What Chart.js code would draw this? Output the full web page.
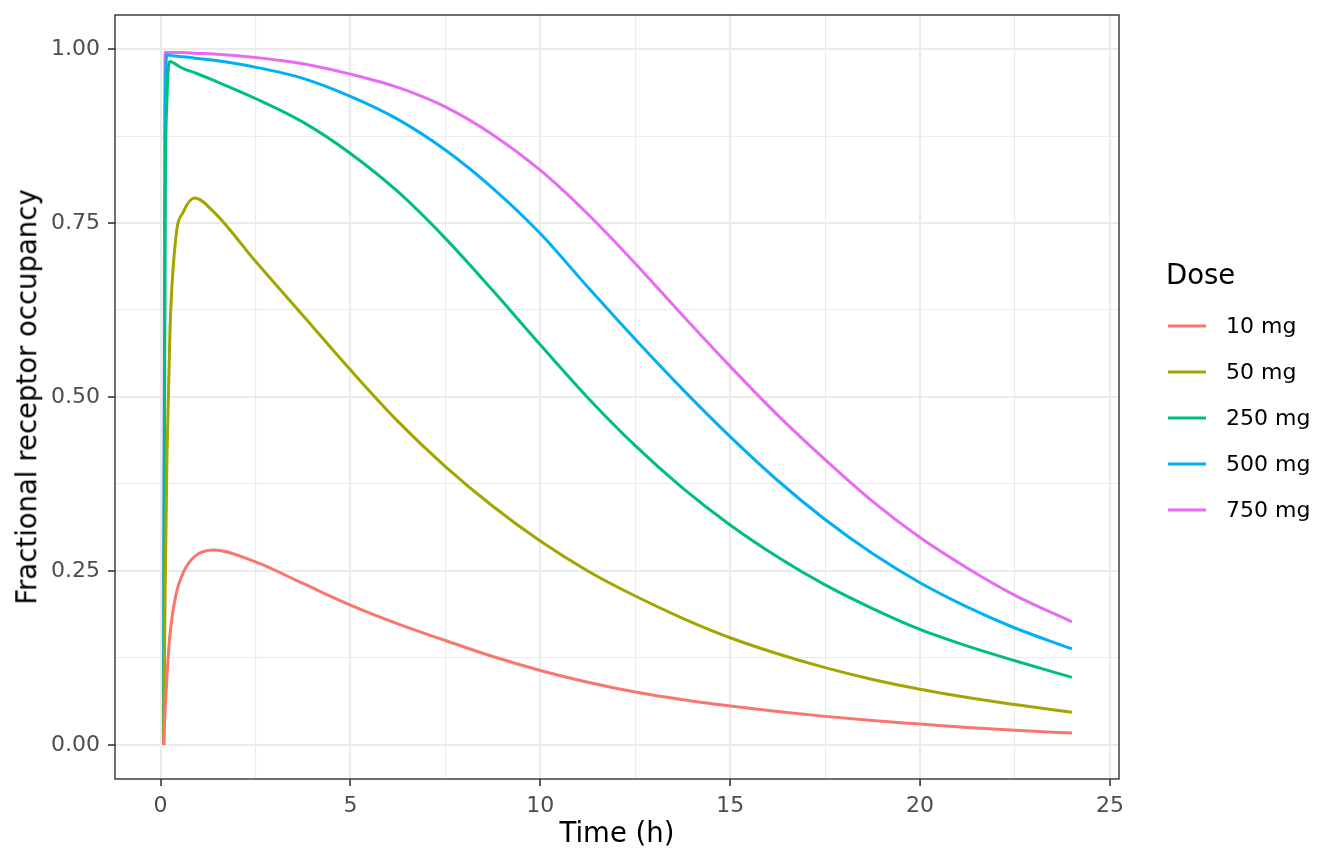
<!DOCTYPE html>
<html>
<head>
<meta charset="utf-8">
<script src="https://cdn.jsdelivr.net/npm/chart.js@4.4.1/dist/chart.umd.min.js"></script>
<style>
  html, body { margin: 0; padding: 0; background: #fff; }
  #wrap { position: relative; width: 1344px; height: 864px; font-family: 'DejaVu Sans', sans-serif; }
  #wrap canvas { position: absolute; left: 0; top: 0; }
  .title { position: absolute; color: #000; font-size: 27.5px; white-space: nowrap; line-height: 1; }
  .lab { position: absolute; color: #000; font-size: 22px; white-space: nowrap; line-height: 1; transform: translateY(-50%); }
  .key { position: absolute; height: 3px; width: 38px; transform: translateY(-50%); }
</style>
</head>
<body>
<div id="wrap">
  <canvas id="chartOccupancy" width="1344" height="864"></canvas>
  <div class="title" id="xTitle" style="left:617px; top:833px; transform:translate(-50%,-50%);">Time (h)</div>
  <div class="title" id="yTitle" style="left:27px; top:397px; transform:translate(-50%,-50%) rotate(-90deg);">Fractional receptor occupancy</div>
  <div class="title" style="left:1166px; top:275px; transform:translateY(-50%);">Dose</div>
  <div id="legend"></div>
</div>
<script>
// ============================================
// Receptor occupancy vs time, per dose
// ============================================

const doseLabels = ['10 mg', '50 mg', '250 mg', '500 mg', '750 mg'];
const doseColors = ['#F8766D', '#A3A500', '#00BF7D', '#00B0F6', '#E76BF3'];

// time (h)
const times = [0.08, 0.12, 0.17, 0.25, 0.4, 0.6, 0.9, 1.4, 2.5, 3.75, 5, 6.25, 7.5, 8.75, 10,
               11.25, 12.5, 13.75, 15, 16.25, 17.5, 18.75, 20, 21.25, 22.5, 24];

const occ10  = [0, 0.05, 0.10, 0.16, 0.215, 0.248, 0.271, 0.280, 0.263, 0.232, 0.201, 0.174, 0.150, 0.127, 0.107,
                0.090, 0.076, 0.065, 0.056, 0.048, 0.041, 0.035, 0.030, 0.025, 0.021, 0.017];
const occ50  = [0, 0.22, 0.42, 0.60, 0.728, 0.766, 0.786, 0.766, 0.695, 0.617, 0.539, 0.465, 0.400, 0.343, 0.293,
                0.250, 0.214, 0.182, 0.154, 0.131, 0.111, 0.094, 0.080, 0.068, 0.058, 0.047];
const occ250 = [0, 0.75, 0.93, 0.982, 0.978, 0.972, 0.966, 0.955, 0.929, 0.895, 0.850, 0.795, 0.728, 0.653, 0.575,
                0.499, 0.430, 0.369, 0.316, 0.270, 0.230, 0.196, 0.166, 0.142, 0.121, 0.097];
const occ500 = [0, 0.90, 0.992, 0.991, 0.990, 0.989, 0.987, 0.984, 0.974, 0.958, 0.932, 0.899, 0.855, 0.800, 0.735,
                0.658, 0.583, 0.511, 0.443, 0.380, 0.324, 0.275, 0.233, 0.198, 0.168, 0.138];
const occ750 = [0, 0.995, 0.995, 0.995, 0.995, 0.995, 0.994, 0.993, 0.988, 0.979, 0.964, 0.945, 0.917, 0.877, 0.826,
                0.763, 0.692, 0.617, 0.544, 0.474, 0.410, 0.350, 0.298, 0.254, 0.215, 0.177];

const xMajor = [0, 5, 10, 15, 20, 25];
const xMinor = [2.5, 7.5, 12.5, 17.5, 22.5];
const xTickLabels = ['0', '5', '10', '15', '20', '25'];
const yMajor = [0, 0.25, 0.5, 0.75, 1];
const yMinor = [0.125, 0.375, 0.625, 0.875];
const yTickLabels = ['0.00', '0.25', '0.50', '0.75', '1.00'];

const allSeries = [occ10, occ50, occ250, occ500, occ750];

function isMajor(list, v) {
  return list.some(m => Math.abs(m - v) < 1e-9);
}

// legend (html, ggplot style)
const legendEl = document.getElementById('legend');
doseLabels.forEach((lbl, i) => {
  const y = 325.7 + i * 46;
  legendEl.insertAdjacentHTML('beforeend',
    '<div class="key" style="left:1168px; top:' + y + 'px; background:' + doseColors[i] + ';"></div>' +
    '<div class="lab" style="left:1226px; top:' + y + 'px;">' + lbl + '</div>');
});

const panelBorder = {
  id: 'panelBorder',
  afterDatasetsDraw(chart) {
    const a = chart.chartArea;
    const ctx = chart.ctx;
    ctx.save();
    ctx.strokeStyle = '#333333';
    ctx.lineWidth = 1.4;
    ctx.strokeRect(a.left, a.top, a.right - a.left, a.bottom - a.top);
    ctx.restore();
  }
};

const gridOpts = (majors) => ({
  color: '#EBEBEB',
  lineWidth: c => (c.tick && isMajor(majors, c.tick.value)) ? 2.1 : 1.1,
  tickColor: c => (c.tick && isMajor(majors, c.tick.value)) ? '#333333' : 'rgba(0,0,0,0)',
  tickWidth: 1.6,
  tickLength: 7,
  drawTicks: true
});

function noPad(s) {
  s.paddingTop = 0; s.paddingBottom = 0; s.paddingLeft = 0; s.paddingRight = 0;
}

new Chart(document.getElementById('chartOccupancy'), {
  type: 'line',
  data: {
    datasets: allSeries.map((vals, i) => ({
      label: doseLabels[i],
      data: times.map((t, j) => ({ x: t, y: vals[j] })),
      borderColor: doseColors[i],
      borderWidth: 3,
      pointRadius: 0,
      fill: false,
      cubicInterpolationMode: 'monotone'
    }))
  },
  options: {
    responsive: false,
    animation: false,
    events: [],
    layout: { padding: { left: 0, top: 15, right: 225, bottom: 0 } },
    plugins: { legend: { display: false }, tooltip: { enabled: false } },
    scales: {
      x: {
        type: 'linear',
        min: -1.2,
        max: 25.24,
        afterFit: s => { s.height = 85; noPad(s); },
        afterBuildTicks: s => { s.ticks = xMajor.concat(xMinor).sort((a, b) => a - b).map(v => ({ value: v })); },
        ticks: {
          autoSkip: false,
          maxRotation: 0,
          padding: 7,
          color: '#4D4D4D',
          font: { family: "'DejaVu Sans', sans-serif", size: 22 },
          callback: v => {
            const k = xMajor.findIndex(m => Math.abs(m - v) < 1e-9);
            return k >= 0 ? xTickLabels[k] : '';
          }
        },
        grid: gridOpts(xMajor),
        border: { display: false }
      },
      y: {
        type: 'linear',
        min: -0.049,
        max: 1.049,
        afterFit: s => { s.width = 115; noPad(s); },
        afterBuildTicks: s => { s.ticks = yMajor.concat(yMinor).sort((a, b) => a - b).map(v => ({ value: v })); },
        ticks: {
          autoSkip: false,
          padding: 8,
          color: '#4D4D4D',
          font: { family: "'DejaVu Sans', sans-serif", size: 22 },
          callback: v => {
            const k = yMajor.findIndex(m => Math.abs(m - v) < 1e-9);
            return k >= 0 ? yTickLabels[k] : '';
          }
        },
        grid: gridOpts(yMajor),
        border: { display: false }
      }
    }
  },
  plugins: [panelBorder]
});
</script>
</body>
</html>
